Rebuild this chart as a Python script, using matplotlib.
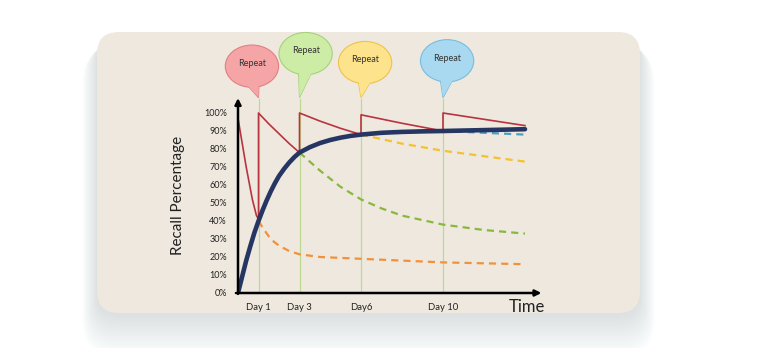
import numpy as np
import matplotlib.pyplot as plt
from matplotlib.patches import FancyBboxPatch, Ellipse, Polygon

plt.rcParams['font.family'] = ['Lato', 'DejaVu Sans']

# values (x = day, y = recall %)
repeat_days = [1, 3, 6, 10]
day_labels = ['Day 1', 'Day 3', 'Day6', 'Day 10']
y_ticks = [0, 10, 20, 30, 40, 50, 60, 70, 80, 90, 100]

memory_days = [0, 0.2, 0.4, 0.6, 0.8, 1, 1.2, 1.4, 1.6, 1.8, 2, 2.25, 2.5, 2.75, 3, 3.5,
               4, 4.5, 5, 5.5, 6, 7, 8, 9, 10, 12, 14]
memory_vals = [0, 9, 18, 26, 33.5, 40, 46, 51.5, 56.5, 61, 65, 69, 72.5, 75.5, 78, 81,
               83.3, 85, 86.3, 87.3, 88, 89, 89.5, 89.8, 90, 90.5, 91]

red_days = [0, 0.4, 0.7, 0.9, 1, 1, 1.5, 2, 2.5, 3, 3, 4, 5, 6, 6, 8, 10, 10, 12, 14]
red_vals = [97, 70, 52, 43, 41, 100, 94, 88.5, 83, 78, 100, 95.5, 91.5, 88, 99, 94.3, 90, 100, 96.5, 93]

orange_days = [1, 1.25, 1.5, 1.75, 2, 2.5, 3, 4, 6, 8, 10, 12, 14]
orange_vals = [40, 35.5, 31.5, 28.5, 26.3, 23.3, 21.5, 20, 19, 18, 17, 16.5, 16]
green_days = [3, 4, 5, 6, 7, 8, 10, 12, 14]
green_vals = [78, 68, 59, 52, 47, 43, 38, 35, 33]
yellow_days = [6, 8, 10, 12, 14]
yellow_vals = [88, 83, 79, 76, 73]
teal_days = [10, 12, 14]
teal_vals = [90, 89, 88]

bubble_x = [0.68, 3.3, 6.2, 10.2]
bubble_y = [126, 133, 128, 129]
bubble_fill = ['#f6a5a6', '#cdeca6', '#fde38c', '#a9d9f1']
bubble_edge = ['#e27f84', '#a6d27a', '#efc24a', '#78bde0']

fig = plt.figure(figsize=(7.73, 3.48), dpi=100)
fig.patch.set_facecolor('white')

# background card (pixel coordinates) with a soft shadow
bg = fig.add_axes([0, 0, 1, 1])
bg.set_xlim(0, 773)
bg.set_ylim(348, 0)
bg.axis('off')
for i in range(30):
    bg.add_patch(FancyBboxPatch((97 - i * 0.5, 38 + i * 0.3), 543 + i * 1.0, 278 + i * 1.1,
                                boxstyle='round,pad=0,rounding_size=%d' % (22 + i // 2),
                                fc='#7a8aa0', ec='none', alpha=0.007))
bg.add_patch(FancyBboxPatch((97, 32), 543, 281, boxstyle='round,pad=0,rounding_size=22',
                            fc='#efe8df', ec='none'))

ax = fig.add_axes([238 / 773, 55 / 348, 15 * 20.5 / 773, 108.3 * 1.8 / 348])
ax.set_xlim(0, 15)
ax.set_ylim(0, 108.3)
ax.patch.set_alpha(0)
for s in ax.spines.values():
    s.set_visible(False)

for d in repeat_days:
    ax.plot([d, d], [0, 108], color='#bcd98f', lw=0.9, zorder=1)

ax.plot(red_days, red_vals, color='#b8343f', lw=1.2, zorder=3)
dash = (3.2, 2.3)
ax.plot(orange_days, orange_vals, color='#f2913b', lw=1.6, dashes=dash, zorder=2)
ax.plot(green_days, green_vals, color='#88b83c', lw=1.6, dashes=dash, zorder=2)
ax.plot(yellow_days, yellow_vals, color='#f5c12c', lw=1.6, dashes=dash, zorder=2)
ax.plot(teal_days, teal_vals, color='#4a9fc6', lw=1.6, dashes=dash, zorder=2)
ax.plot(memory_days, memory_vals, color='#263663', lw=3.3, solid_capstyle='round',
        solid_joinstyle='round', zorder=4)

# axes with arrows
arrow = dict(arrowstyle='-|>', lw=1.8, color='black', mutation_scale=9, shrinkA=0, shrinkB=0)
ax.annotate('', xy=(0, 108.3), xytext=(0, -0.5), arrowprops=arrow, annotation_clip=False, zorder=5)
ax.annotate('', xy=(14.8, 0), xytext=(-0.1, 0), arrowprops=arrow, annotation_clip=False, zorder=5)

ax.set_yticks(y_ticks)
ax.set_yticklabels([f'{v}%' for v in y_ticks], fontsize=6.5, color='#222222')
ax.set_xticks(repeat_days)
ax.set_xticklabels(day_labels, fontsize=6.8, color='#222222')
ax.tick_params(length=0)
ax.tick_params(axis='y', pad=8)
ax.tick_params(axis='x', pad=7)
ax.set_ylabel('Recall Percentage', fontsize=11, color='#222222', labelpad=14)
ax.text(14.1, -7.5, 'Time', fontsize=12, color='#222222', ha='center', va='center')

# speech bubbles
for d, bx, by, fc, ec in zip(repeat_days, bubble_x, bubble_y, bubble_fill, bubble_edge):
    tail = Polygon([[bx - 0.35, by - 9], [bx + 0.35, by - 9], [d, 108.5]], closed=True,
                   fc=fc, ec=ec, lw=0.8, clip_on=False, zorder=6)
    ax.add_patch(tail)
    ax.add_patch(Ellipse((bx, by), 2.6, 23.5, fc=fc, ec=ec, lw=0.8, clip_on=False, zorder=6))
    ax.add_patch(Polygon([[bx - 0.33, by - 9.5], [bx + 0.33, by - 9.5], [d, 108.8]], closed=True,
                         fc=fc, ec='none', clip_on=False, zorder=7))
    ax.text(bx, by + 1.5, 'Repeat', fontsize=6.5, color='#333333', ha='center', va='center', zorder=8)

fig.savefig('out.png', dpi=100)
